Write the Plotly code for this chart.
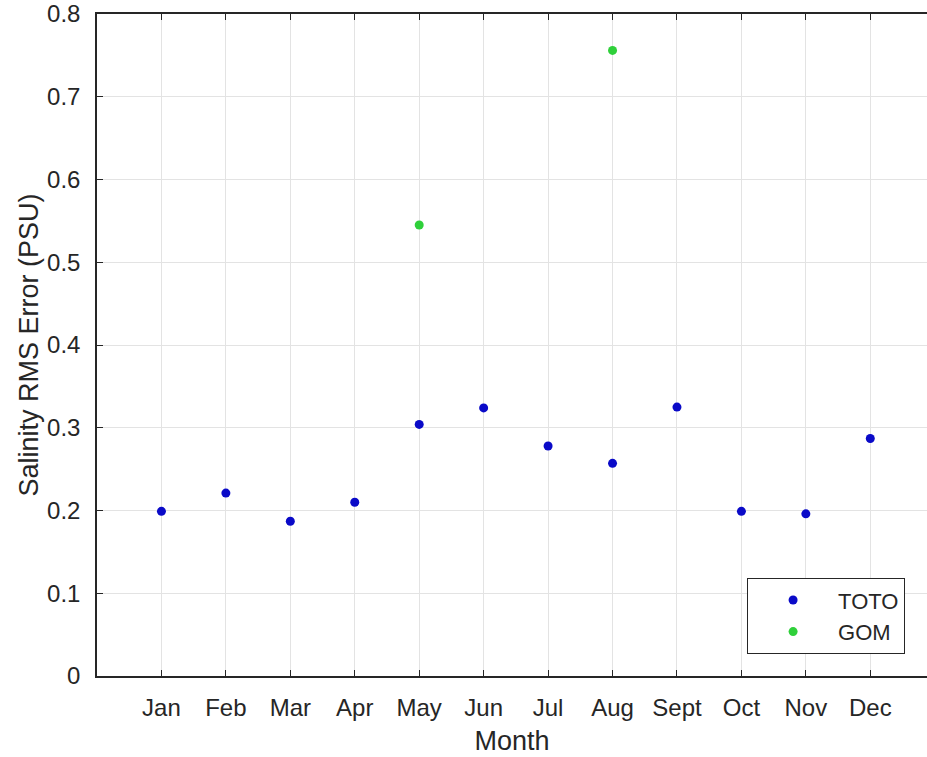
import plotly.graph_objects as go

months = ["Jan", "Feb", "Mar", "Apr", "May", "Jun", "Jul", "Aug", "Sept", "Oct", "Nov", "Dec"]
month_idx = list(range(1, 13))

toto_rms = [0.199, 0.221, 0.187, 0.210, 0.304, 0.324, 0.278, 0.257, 0.325, 0.199, 0.196, 0.287]

gom_months = [5, 8]
gom_rms = [0.545, 0.756]

y_ticks = [0, 0.1, 0.2, 0.3, 0.4, 0.5, 0.6, 0.7, 0.8]

font_family = "Liberation Sans, Arial, sans-serif"
text_color = "#262626"

fig = go.Figure()
fig.add_trace(go.Scatter(
    x=month_idx, y=toto_rms, mode="markers", name="TOTO",
    marker=dict(color="#0a0ac8", size=9),
))
fig.add_trace(go.Scatter(
    x=gom_months, y=gom_rms, mode="markers", name="GOM",
    marker=dict(color="#2fd03a", size=9),
))

fig.update_layout(
    width=927, height=757,
    margin=dict(l=97, r=0, t=14, b=81),
    paper_bgcolor="white", plot_bgcolor="white",
    font=dict(family=font_family, size=24, color=text_color),
    showlegend=True,
    legend=dict(
        x=0.783, y=0.148, xanchor="left", yanchor="top",
        bgcolor="white", bordercolor="#262626", borderwidth=1.2,
        font=dict(size=22, color=text_color),
        itemwidth=80, tracegroupgap=0,
    ),
)
fig.update_xaxes(
    range=[0, 12.88],
    tickmode="array", tickvals=month_idx, ticktext=months,
    showgrid=True, gridcolor="#e3e3e3", gridwidth=1,
    showline=True, linecolor="#262626", linewidth=1.5,
    mirror="allticks", ticks="inside", ticklen=6, tickcolor="#262626",
    zeroline=False, ticklabelstandoff=9,
    title=dict(text="Month", font=dict(size=27), standoff=12),
)
fig.update_yaxes(
    range=[0, 0.8],
    tickmode="array", tickvals=y_ticks, ticktext=[f"{v:g}" for v in y_ticks],
    showgrid=True, gridcolor="#e3e3e3", gridwidth=1,
    showline=True, linecolor="#262626", linewidth=1.5,
    ticks="inside", ticklen=6, tickcolor="#262626",
    zeroline=False, ticklabelstandoff=10,
    title=dict(text="Salinity RMS Error (PSU)", font=dict(size=27), standoff=1),
)

fig.write_html("out.html")
